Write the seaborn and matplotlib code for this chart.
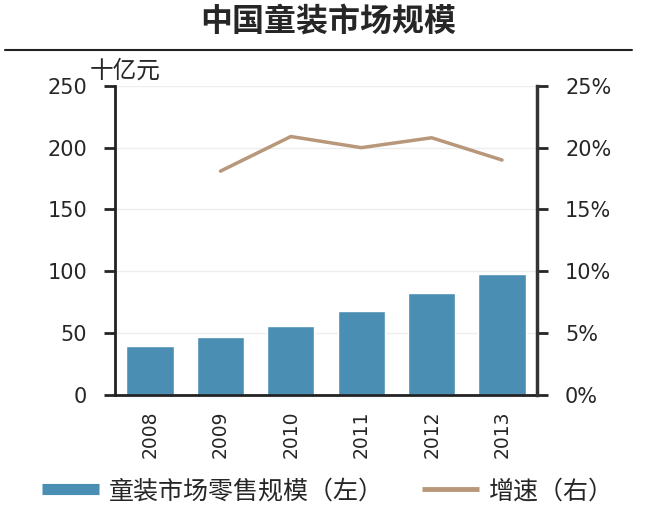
import numpy as np
import pandas as pd
import matplotlib
matplotlib.use('Agg')
import matplotlib.pyplot as plt
import seaborn as sns
from matplotlib.lines import Line2D

years = ['2008', '2009', '2010', '2011', '2012', '2013']
scale = [39.6, 47.2, 55.8, 68.2, 82.3, 97.9]          # 十亿元
growth = [np.nan, 18.1, 20.9, 20.0, 20.8, 19.0]       # %

bar_color = '#4a8fb3'
line_color = '#b8977a'

sns.set_style('white')
plt.rcParams['font.family'] = ['Noto Sans CJK SC', 'DejaVu Sans']

df = pd.DataFrame({'year': years, 'scale': scale, 'growth': growth})

fig = plt.figure(figsize=(6.6, 5.17), dpi=100)
ax = fig.add_axes([0.174, 0.236, 0.64, 0.598])

sns.barplot(data=df, x='year', y='scale', color=bar_color, width=0.67,
            saturation=1, ax=ax)
ax.set_ylim(0, 250)
ax.set_yticks(range(0, 251, 50))
ax.set_xlim(-0.5, len(years) - 0.5)
ax.set_xlabel('')
ax.set_ylabel('')
ax.yaxis.grid(True, color='#eeeeee', linewidth=1)
ax.set_axisbelow(True)
ax.tick_params(axis='y', direction='out', length=8, width=2, labelsize=15, pad=12)
for t in ax.get_yticklabels():
    t.set_family('DejaVu Sans')
ax.set_xticks(np.arange(len(years)))
ax.set_xticklabels(years, rotation=90, fontsize=13.5, family='DejaVu Sans')
ax.tick_params(axis='x', length=0, pad=11)
ax.set_xticks(np.arange(len(years) + 1) - 0.5, minor=True)
ax.tick_params(axis='x', which='minor', direction='out', length=7, width=2)
for s in ['left', 'bottom']:
    ax.spines[s].set_linewidth(2)
    ax.spines[s].set_color('#222222')
ax.spines['top'].set_visible(False)
ax.spines['right'].set_visible(False)

ax2 = ax.twinx()
xpos = np.arange(len(years))
sns.lineplot(x=xpos, y=df['growth'], color=line_color, linewidth=2.5, ax=ax2)
ax2.set_ylim(0, 25)
ax2.set_yticks(range(0, 26, 5))
ax2.set_yticklabels([f'{v}%' for v in range(0, 26, 5)], family='DejaVu Sans')
ax2.set_ylabel('')
ax2.tick_params(axis='y', direction='out', length=8, width=2, labelsize=15, pad=12)
ax2.spines['right'].set_linewidth(2.5)
ax2.spines['right'].set_color('#333333')
for s in ['left', 'top', 'bottom']:
    ax2.spines[s].set_visible(False)
ax2.set_xlim(-0.5, len(years) - 0.5)

fig.text(0.498, 0.958, '中国童装市场规模', ha='center', va='center',
         fontsize=23, fontweight='bold')
fig.add_artist(Line2D([0.008, 0.958], [0.903, 0.903], color='#222222',
                      linewidth=1.5, transform=fig.transFigure))
fig.text(0.136, 0.862, '十亿元', ha='left', va='center', fontsize=17)

handles = [Line2D([], [], color=bar_color, linewidth=8, solid_capstyle='butt'),
           Line2D([], [], color=line_color, linewidth=3.5, solid_capstyle='butt')]
fig.legend(handles, ['童装市场零售规模（左）', '增速（右）'], loc='center',
           bbox_to_anchor=(0.497, 0.05), ncol=2, frameon=False, fontsize=18,
           handlelength=2.3, handletextpad=0.4, columnspacing=1.5)

fig.savefig('out.png', dpi=100)
